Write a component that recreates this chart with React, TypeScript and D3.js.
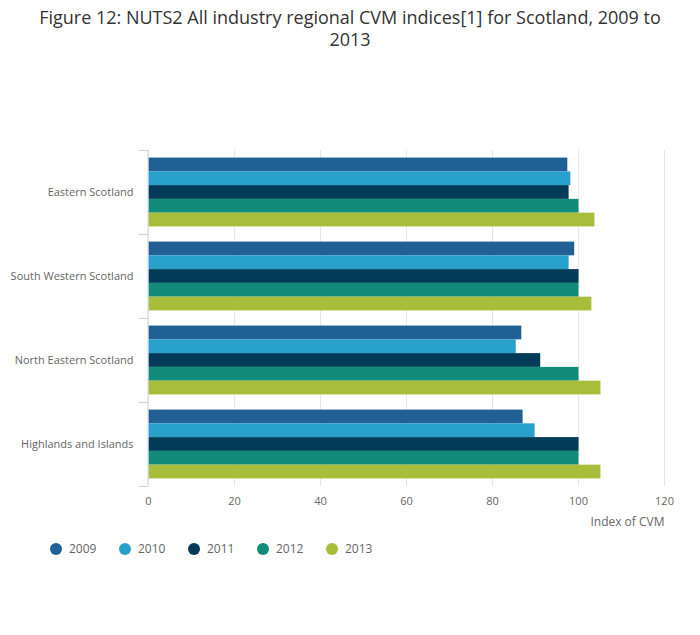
import * as React from 'react';
import * as d3 from 'd3';

// regions, top to bottom
const regions: string[] = ['Eastern Scotland', 'South Western Scotland', 'North Eastern Scotland', 'Highlands and Islands'];
const years: string[] = ['2009', '2010', '2011', '2012', '2013'];
const yearColors: string[] = ['#206095', '#27a0cc', '#003c57', '#118c7b', '#a8bd3a'];

// index of CVM per region, one array per year
const values2009: number[] = [97.4, 99.0, 86.7, 87.0];
const values2010: number[] = [98.1, 97.7, 85.4, 89.8];
const values2011: number[] = [97.7, 100.0, 91.1, 100.0];
const values2012: number[] = [100.0, 100.0, 100.0, 100.0];
const values2013: number[] = [103.7, 103.0, 105.1, 105.1];
const seriesValues: number[][] = [values2009, values2010, values2011, values2012, values2013];

const xTicks: number[] = [0, 20, 40, 60, 80, 100, 120];

const width = 700;
const height = 635;
const margin = { top: 150, right: 35.5, bottom: 149, left: 148.5 };
const fontFamily = '"Open Sans", "Noto Sans", sans-serif';

const App: React.FC = () => {
	const plotW = width - margin.left - margin.right;
	const plotH = height - margin.top - margin.bottom;

	const x = d3.scaleLinear().domain([0, 120]).range([0, plotW]);
	const y0 = d3.scaleBand<string>().domain(regions).range([0, plotH]);
	const y1 = d3.scaleBand<string>().domain(years).range([0, y0.bandwidth()]).paddingOuter(0.55).paddingInner(0);

	return (
		<svg width={width} height={height} style={{ position: 'absolute', left: 0, top: 0, fontFamily }}>
			<rect width={width} height={height} fill="#ffffff" />
			<text x={width / 2} y={24} textAnchor="middle" fontSize={18} fill="#333333">
				Figure 12: NUTS2 All industry regional CVM indices[1] for Scotland, 2009 to
			</text>
			<text x={width / 2} y={46} textAnchor="middle" fontSize={18} fill="#333333">
				2013
			</text>
			<g transform={`translate(${margin.left},${margin.top})`}>
				{/* vertical gridlines */}
				{xTicks.map((t) => (
					<line key={'g' + t} x1={x(t)} x2={x(t)} y1={0} y2={plotH} stroke="#e6e6e6" strokeWidth={1} />
				))}
				{/* bars */}
				{regions.map((r, ri) => (
					<g key={r} transform={`translate(0,${y0(r)})`}>
						{years.map((yr, si) => (
							<rect
								key={yr}
								x={x(0)}
								y={y1(yr)}
								width={x(seriesValues[si][ri]) - x(0)}
								height={y1.bandwidth()}
								fill={yearColors[si]}
							/>
						))}
					</g>
				))}
				{/* left axis line and category ticks */}
				<line x1={-0.5} x2={-0.5} y1={0} y2={plotH} stroke="#ccd6eb" strokeWidth={1} />
				{regions.concat(['']).map((r, i) => (
					<line key={'t' + i} x1={-10} x2={0} y1={i * y0.step() + 0.5} y2={i * y0.step() + 0.5} stroke="#ccd6eb" strokeWidth={1} />
				))}
				{regions.map((r) => (
					<text key={'l' + r} x={-15} y={(y0(r) as number) + y0.bandwidth() / 2} dy="0.35em" textAnchor="end" fontSize={11} fill="#666666">
						{r}
					</text>
				))}
				{/* x tick labels */}
				{xTicks.map((t) => (
					<text key={'x' + t} x={x(t)} y={plotH + 19} textAnchor="middle" fontSize={11} fill="#666666">
						{t}
					</text>
				))}
				<text x={plotW} y={plotH + 40} textAnchor="end" fontSize={12} fill="#666666">
					Index of CVM
				</text>
			</g>
			{/* legend */}
			<g>
				{years.map((yr, i) => {
					const lx = 56 + i * 69;
					return (
						<g key={'lg' + yr} transform={`translate(${lx},549)`}>
							<circle r={6} fill={yearColors[i]} />
							<text x={13} dy="0.35em" fontSize={12} fill="#666666">
								{yr}
							</text>
						</g>
					);
				})}
			</g>
		</svg>
	);
};

export default App;
